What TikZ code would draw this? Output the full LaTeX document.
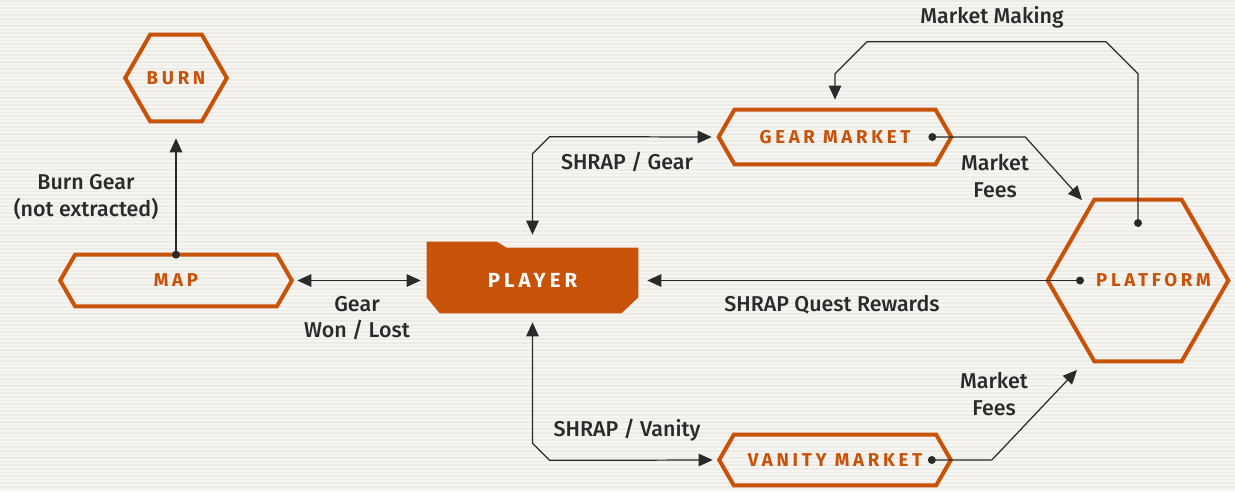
\documentclass[tikz,border=0pt]{standalone}
\usepackage{fontspec}
\setmainfont{Fira Sans}[UprightFont=* Medium]
\newfontfamily\tagfont[LetterSpace=20]{Fira Sans}
\usetikzlibrary{arrows.meta,calc}

\definecolor{rust}{RGB}{201,82,9}
\definecolor{ink}{RGB}{42,42,42}
\definecolor{paper}{RGB}{246,245,241}
\definecolor{stripe}{RGB}{236,235,229}

\pgfdeclarelayer{backdrop}
\pgfdeclarelayer{plate}
\pgfsetlayers{backdrop,plate,main}

\tikzset{
  hexnode/.style={inner sep=0pt, text=rust, font=\tagfont\bfseries\fontsize{10.6}{12}\selectfont},
  lbl/.style={inner sep=0pt, text=ink, align=center, font=\fontsize{12.2}{15}\selectfont},
  link/.style={draw=ink, line width=0.7pt, ->},
}

\begin{document}
\begin{tikzpicture}[x=0.02cm, y=-0.02cm, >={Triangle[length=0.28cm,width=0.25cm]}]

% Background
\begin{pgfonlayer}{backdrop}
\fill[paper] (0,0) rectangle (1235,491);
\foreach \s in {0,3.6,...,489} \fill[stripe] (0,\s) rectangle (1235,\s+1.6);
\end{pgfonlayer}
\useasboundingbox (0,0) rectangle (1235,491);

% Hexagons
\node[hexnode, minimum width=2.02cm, minimum height=1.72cm] (burn) at (176,78) {BURN};
\node[hexnode, minimum width=4.62cm, minimum height=1.02cm] (map) at (176,280.5) {MAP};
\node[hexnode, minimum width=4.64cm, minimum height=1.08cm] (gear_market) at (835,137) {GEAR MARKET};
\node[hexnode, minimum width=4.62cm, minimum height=1.0cm] (vanity_market) at (835,460) {VANITY MARKET};
\node[hexnode, minimum width=3.6cm, minimum height=3.22cm] (platform) at (1138,280.5) {\hspace*{0.62cm}PLATFORM};

\foreach \h in {burn,map,gear_market,vanity_market,platform}
  \draw[rust, line width=0.08cm] let \p1=(\h.north), \p2=(\h.south), \n1={0.2887*(\y1-\y2)} in
    (\h.west) -- ([xshift=\n1]\h.north west) -- ([xshift=-\n1]\h.north east) -- (\h.east)
    -- ([xshift=-\n1]\h.south east) -- ([xshift=\n1]\h.south west) -- cycle;

% Player
\node[inner sep=0pt, minimum width=4.22cm, minimum height=1.3cm, text=white, font=\tagfont\bfseries\fontsize{11.6}{13}\selectfont] (player) at (532.5,280.5) {PLAYER};
\begin{pgfonlayer}{plate}
\fill[rust] ([yshift=0.32cm]player.south west) -- ([yshift=0.12cm]player.north west)
  -- ([xshift=1.4cm,yshift=0.12cm]player.north west) -- ([xshift=1.6cm]player.north west)
  -- (player.north east) -- ([yshift=0.32cm]player.south east)
  -- ([xshift=-0.34cm]player.south east) -- ([xshift=0.26cm]player.south west) -- cycle;
\end{pgfonlayer}

% Dots and free ends
\coordinate (map_dot) at (map.north);
\coordinate (gear_dot) at ([xshift=-0.38cm]gear_market.east);
\coordinate (vanity_dot) at ([xshift=-0.38cm]vanity_market.east);
\coordinate (platform_top) at ([yshift=1.15cm]platform.center);
\coordinate (platform_left) at ([xshift=-1.16cm]platform.center);
\coordinate (fees_in_top) at (1082,200);
\coordinate (fees_in_bottom) at (1077,370);

% Connectors
\draw[link, shorten >=0.34cm] (map_dot) -- (burn.south);
\draw[link, <->, shorten <=0.11cm, shorten >=0.12cm] (map.east) -- (player.west);
\draw[link, <->, shorten <=0.26cm, shorten >=0.14cm] (player.north) -- ++(0,-94) -- ++(17,-17) -- (gear_market.west);
\draw[link, <->, shorten <=0.18cm, shorten >=0.13cm] (player.south) -- ++(0,130) -- ++(17,17) -- (vanity_market.west);
\draw[link] (gear_dot) -- ++(93,0) -- (fees_in_top);
\draw[link] (vanity_dot) -- ++(60,0) -- (fees_in_bottom);
\draw[link, <-, shorten <=0.2cm] (gear_market.north) -- ++(0,-36) -- ++(32,-32) -- ++(239,0) -- ++(32,32) -- (platform_top);
\draw[link, shorten >=0.18cm] (platform_left) -- (player.east);

\foreach \d in {map_dot,gear_dot,vanity_dot,platform_top,platform_left}
  \fill[ink] (\d) circle (0.08cm);

% Labels
\node[lbl] (burn_gear) at (86,197) {Burn Gear\\(not extracted)};
\node[lbl] (gear_won_lost) at (357,318) {Gear\\Won / Lost};
\node[lbl] (shrap_gear) at (627,162) {SHRAP / Gear};
\node[lbl] (fees_top) at (995,176) {Market\\Fees};
\node[lbl] (market_making) at (992,17) {Market Making};
\node[lbl] (quest_rewards) at (832,305) {SHRAP Quest Rewards};
\node[lbl] (shrap_vanity) at (627,430) {SHRAP / Vanity};
\node[lbl] (fees_bottom) at (994,394) {Market\\Fees};

\end{tikzpicture}
\end{document}
